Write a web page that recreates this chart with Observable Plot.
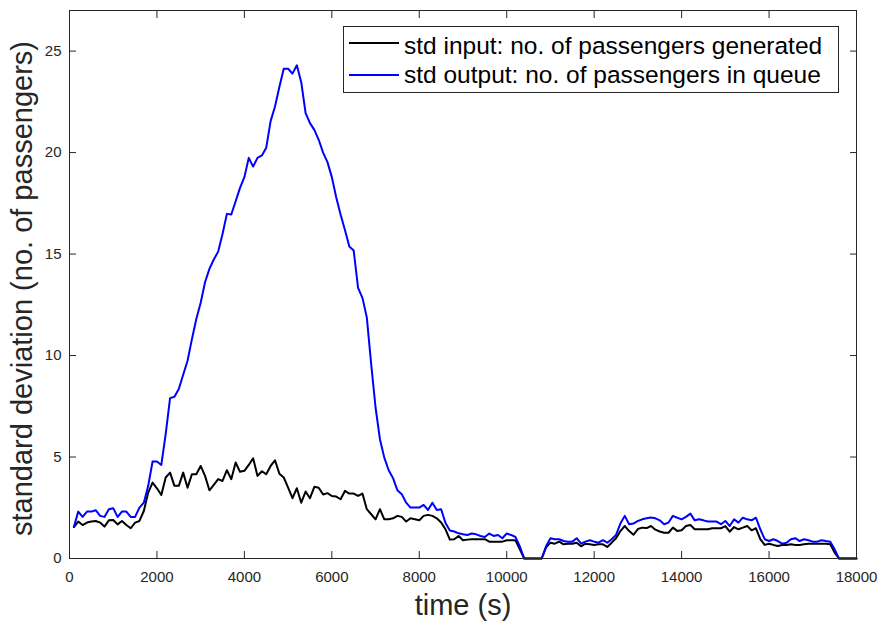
<!DOCTYPE html>
<html><head><meta charset="utf-8">
<script src="https://cdn.jsdelivr.net/npm/d3@7"></script>
<script src="https://cdn.jsdelivr.net/npm/@observablehq/plot@0.6"></script>
<style>
body{margin:0;background:#fff;}
#wrap{position:relative;width:882px;height:624px;font-family:"Liberation Sans",Arial,sans-serif;}
#legend{position:absolute;left:343px;top:26px;width:496px;height:67px;border:1px solid #262626;background:#fff;box-sizing:border-box;}
.sw{position:absolute;left:5px;width:50px;height:0;border-top:2px solid;}
.lt{position:absolute;left:60px;font-size:24.5px;line-height:30px;white-space:nowrap;color:#000;}
</style></head>
<body><div id="wrap"></div>
<script>
const times = [
  100,200,300,400,500,600,700,800,900,1000,
  1100,1200,1300,1400,1500,1600,1700,1800,1900,2000,
  2100,2200,2300,2400,2500,2600,2700,2800,2900,3000,
  3100,3200,3300,3400,3500,3600,3700,3800,3900,4000,
  4100,4200,4300,4400,4500,4600,4700,4800,4900,5000,
  5100,5200,5300,5400,5500,5600,5700,5800,5900,6000,
  6100,6200,6300,6400,6500,6600,6700,6800,6900,7000,
  7100,7200,7300,7400,7500,7600,7700,7800,7900,8000,
  8100,8200,8300,8400,8500,8600,8700,8800,8900,9000,
  9100,9200,9300,9400,9500,9600,9700,9800,9900,10000,
  10100,10200,10300,10400,10500,10600,10700,10800,10900,11000,
  11100,11200,11300,11400,11500,11600,11700,11800,11900,12000,
  12100,12200,12300,12400,12500,12600,12700,12800,12900,13000,
  13100,13200,13300,13400,13500,13600,13700,13800,13900,14000,
  14100,14200,14300,14400,14500,14600,14700,14800,14900,15000,
  15100,15200,15300,15400,15500,15600,15700,15800,15900,16000,
  16100,16200,16300,16400,16500,16600,16700,16800,16900,17000,
  17100,17200,17300,17400,17500,17600,17700,17800,17900,18000
];
const stdInput = [
  1.55,1.82,1.65,1.77,1.82,1.85,1.77,1.57,1.88,1.90,
  1.68,1.85,1.65,1.49,1.77,1.85,2.34,3.25,3.74,3.46,
  3.13,3.99,4.23,3.58,3.58,4.23,3.49,4.15,4.15,4.56,
  4.07,3.36,3.63,3.91,3.82,4.35,3.91,4.73,4.27,4.32,
  4.61,4.94,4.07,4.30,4.15,4.56,4.84,4.18,3.99,3.49,
  2.97,3.46,2.75,3.30,2.97,3.53,3.49,3.15,3.22,3.08,
  3.05,2.92,3.33,3.20,3.20,3.08,3.20,2.43,2.18,1.93,
  2.43,1.93,1.93,1.98,2.10,2.05,1.82,1.98,1.93,1.88,
  2.10,2.15,2.10,1.98,1.77,1.44,0.93,0.95,1.11,0.90,
  0.93,0.95,0.95,0.95,0.95,0.83,0.83,0.83,0.83,0.90,
  0.90,0.90,0.45,0,0,0,0,0,0.55,0.78,
  0.73,0.83,0.70,0.73,0.73,0.78,0.60,0.73,0.70,0.67,
  0.70,0.70,0.57,0.78,1.00,1.35,1.60,1.35,1.17,1.45,
  1.52,1.50,1.60,1.42,1.33,1.27,1.27,1.52,1.36,1.39,
  1.60,1.65,1.44,1.44,1.44,1.44,1.49,1.49,1.49,1.60,
  1.32,1.55,1.44,1.52,1.60,1.39,1.49,0.95,0.67,0.73,
  0.67,0.62,0.67,0.67,0.70,0.67,0.67,0.70,0.73,0.73,
  0.73,0.73,0.73,0.70,0.29,0,0,0,0,0
];
const stdOutput = [
  1.55,2.31,2.05,2.31,2.31,2.38,2.10,2.05,2.43,2.48,
  2.05,2.31,2.31,2.05,2.05,2.51,2.75,3.58,4.78,4.78,
  4.61,6.13,7.90,7.97,8.35,9.05,9.74,10.81,11.80,12.60,
  13.61,14.27,14.73,15.12,15.99,16.98,16.95,17.60,18.26,18.79,
  19.74,19.31,19.74,19.86,20.24,21.55,22.27,23.23,24.13,24.13,
  23.89,24.30,23.47,21.94,21.45,21.12,20.63,20.00,19.53,18.79,
  17.80,16.95,16.19,15.37,15.17,13.33,12.84,11.88,9.58,7.44,
  5.88,4.97,4.35,3.96,3.36,3.17,2.75,2.51,2.51,2.51,
  2.64,2.39,2.75,2.39,2.43,1.75,1.38,1.33,1.24,1.19,
  1.16,1.23,1.19,1.11,1.06,1.23,1.11,1.16,1.00,1.23,
  1.16,1.06,0.60,0,0,0,0,0,0.60,1.00,
  0.95,0.95,0.86,0.83,0.83,1.00,0.73,0.83,0.90,0.83,
  0.78,0.90,0.78,0.95,1.16,1.72,2.10,1.69,1.72,1.85,
  1.93,1.98,2.02,1.98,1.88,1.69,1.77,2.10,2.01,1.93,
  2.05,2.21,1.88,1.93,1.88,1.82,1.82,1.82,1.69,1.85,
  1.60,1.93,1.77,2.01,1.93,1.88,2.01,1.44,0.95,0.86,
  0.95,0.86,0.73,0.78,0.95,1.00,0.86,0.95,0.90,0.83,
  0.83,0.90,0.86,0.83,0.45,0,0,0,0,0
];
const xTicks = [0,2000,4000,6000,8000,10000,12000,14000,16000,18000];
const yTicks = [0,5,10,15,20,25];
const seriesNames = ["std input: no. of passengers generated", "std output: no. of passengers in queue"];
const seriesColors = ["#000000", "#0000ff"];
const xLabel = "time (s)";
const yLabel = "standard deviation (no. of passengers)";

const inputRows = times.map((t, i) => ({t, v: stdInput[i]}));
const outputRows = times.map((t, i) => ({t, v: stdOutput[i]}));

const chart = Plot.plot({
  width: 882, height: 624,
  marginLeft: 69, marginRight: 26, marginTop: 10, marginBottom: 66,
  style: {fontFamily: "Liberation Sans, Arial, sans-serif", fontSize: "15px", color: "#262626", background: "#fff", overflow: "visible"},
  x: {domain: [0, 18000]},
  y: {domain: [0, 27]},
  marks: [
    Plot.axisX(xTicks, {anchor: "bottom", tickSize: 0, tickPadding: 13, tickFormat: d => String(d), label: null}),
    Plot.axisX(xTicks, {anchor: "bottom", tickSize: -7, tickFormat: () => "", label: null, stroke: "#262626"}),
    Plot.axisX(xTicks, {anchor: "top", tickSize: -7, tickFormat: () => "", label: null, stroke: "#262626"}),
    Plot.axisY(yTicks, {anchor: "left", tickSize: 0, tickPadding: 8, label: null}),
    Plot.axisY(yTicks, {anchor: "left", tickSize: -7, tickFormat: () => "", label: null, stroke: "#262626"}),
    Plot.axisY(yTicks, {anchor: "right", tickSize: -7, tickFormat: () => "", label: null, stroke: "#262626"}),
    Plot.line(inputRows, {x: "t", y: "v", stroke: seriesColors[0], strokeWidth: 2}),
    Plot.line(outputRows, {x: "t", y: "v", stroke: seriesColors[1], strokeWidth: 2}),
    Plot.frame({stroke: "#262626", strokeWidth: 1}),
    Plot.text([xLabel], {text: d => d, frameAnchor: "bottom", textAnchor: "middle", lineAnchor: "middle", dy: 47, fontSize: 29, fill: "#262626"}),
    Plot.text([yLabel], {text: d => d, frameAnchor: "left", textAnchor: "middle", lineAnchor: "middle", rotate: -90, dx: -47, dy: 4, fontSize: 29, fill: "#262626"})
  ]
});
const wrap = document.getElementById("wrap");
wrap.appendChild(chart);

const legend = document.createElement("div");
legend.id = "legend";
const swTops = [15, 47];
const txtTops = [4, 33];
seriesNames.forEach((name, i) => {
  const sw = document.createElement("div");
  sw.className = "sw";
  sw.style.top = swTops[i] + "px";
  sw.style.borderTopColor = seriesColors[i];
  legend.appendChild(sw);
  const tx = document.createElement("div");
  tx.className = "lt";
  tx.style.top = txtTops[i] + "px";
  tx.textContent = name;
  legend.appendChild(tx);
});
wrap.appendChild(legend);
</script>
</body></html>
